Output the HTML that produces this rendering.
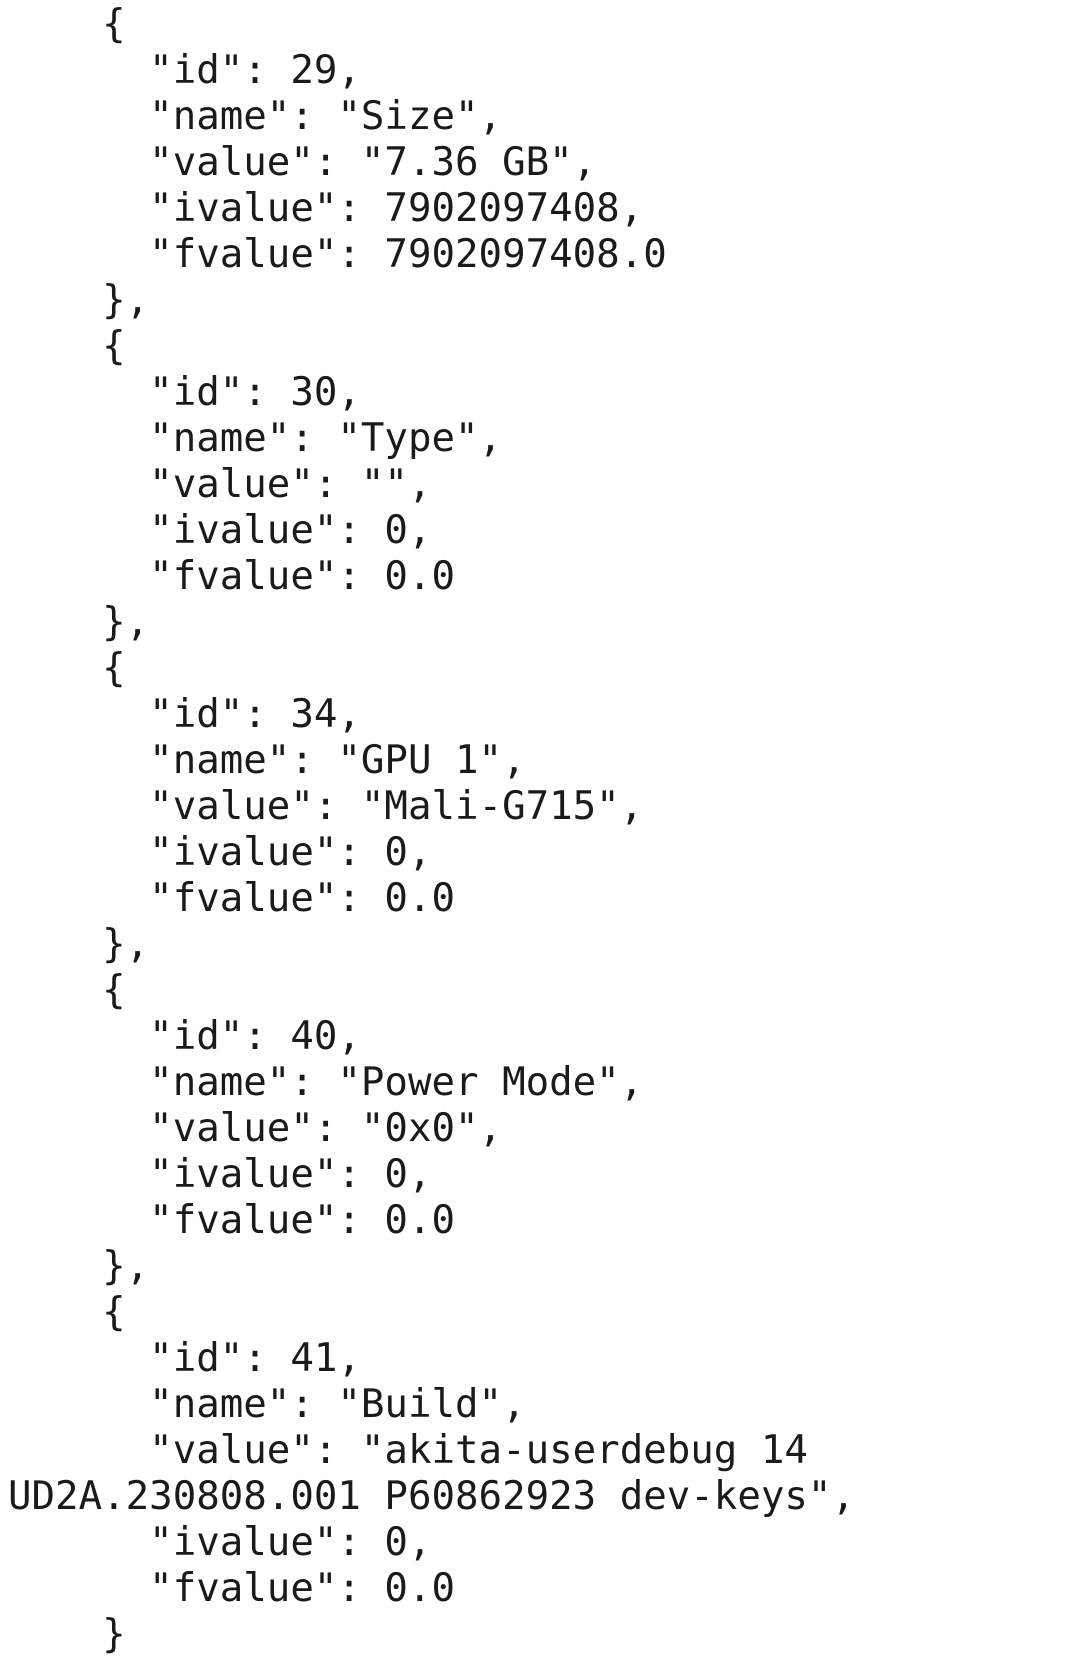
<!DOCTYPE html>
<html><head><meta charset="utf-8"><style>
html,body{margin:0;padding:0;background:#fff;width:1080px;height:1637px;overflow:hidden}
pre{position:absolute;left:8px;top:2px;margin:0;font-family:"DejaVu Sans Mono","Liberation Mono",monospace;font-size:39.1px;line-height:46px;color:#1a1a1a;letter-spacing:0}
</style></head><body><pre>    {
      "id": 29,
      "name": "Size",
      "value": "7.36 GB",
      "ivalue": 7902097408,
      "fvalue": 7902097408.0
    },
    {
      "id": 30,
      "name": "Type",
      "value": "",
      "ivalue": 0,
      "fvalue": 0.0
    },
    {
      "id": 34,
      "name": "GPU 1",
      "value": "Mali-G715",
      "ivalue": 0,
      "fvalue": 0.0
    },
    {
      "id": 40,
      "name": "Power Mode",
      "value": "0x0",
      "ivalue": 0,
      "fvalue": 0.0
    },
    {
      "id": 41,
      "name": "Build",
      "value": "akita-userdebug 14
UD2A.230808.001 P60862923 dev-keys",
      "ivalue": 0,
      "fvalue": 0.0
    }</pre></body></html>
